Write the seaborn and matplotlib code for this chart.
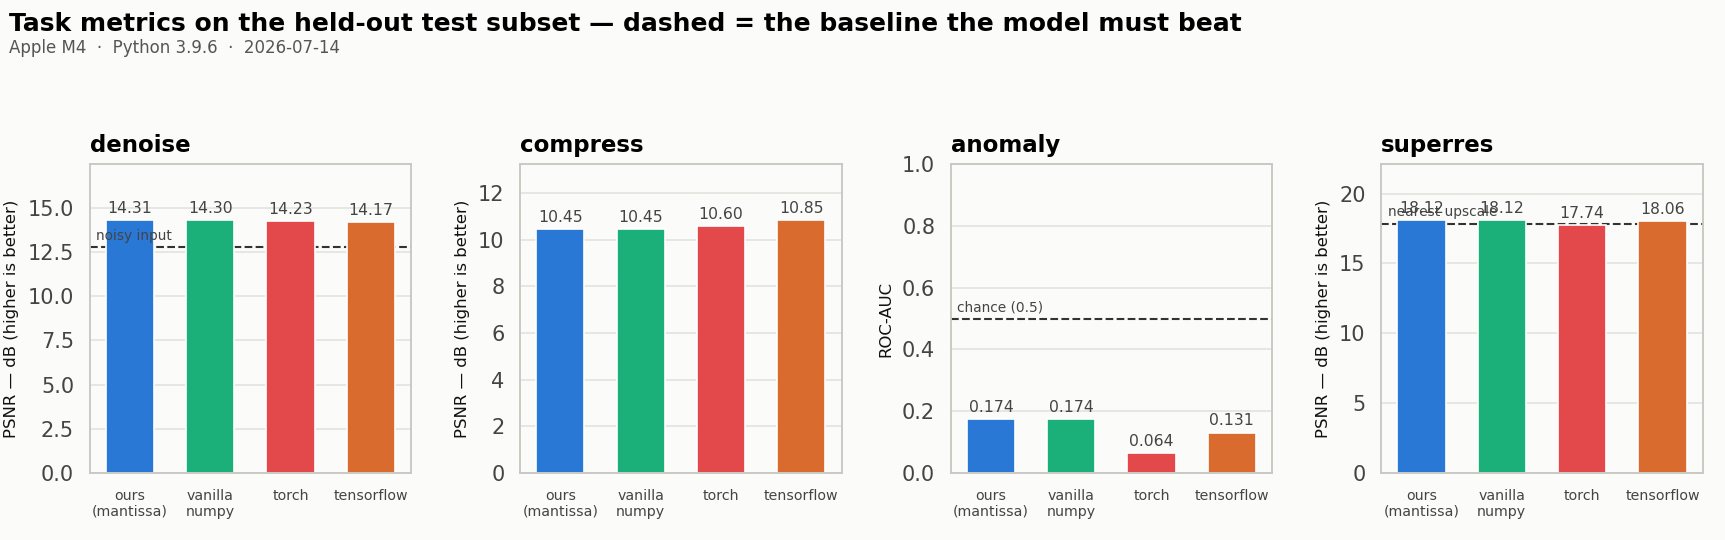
import numpy as np
import pandas as pd
import matplotlib
matplotlib.use("Agg")
import matplotlib.pyplot as plt
import matplotlib.transforms as mtransforms
import seaborn as sns

# data
frameworks = ["ours\n(mantissa)", "vanilla\nnumpy", "torch", "tensorflow"]
tasks = ["denoise", "compress", "anomaly", "superres"]
denoise_psnr = [14.31, 14.30, 14.23, 14.17]
compress_psnr = [10.45, 10.45, 10.60, 10.85]
anomaly_auc = [0.174, 0.174, 0.064, 0.131]
superres_psnr = [18.12, 18.12, 17.74, 18.06]
ylabels = ["PSNR — dB (higher is better)", "PSNR — dB (higher is better)",
           "ROC-AUC", "PSNR — dB (higher is better)"]
baseline_vals = [12.78, None, 0.5, 17.85]
baseline_names = ["noisy input", None, "chance (0.5)", "nearest upscale"]
value_fmt = ["{:.2f}", "{:.2f}", "{:.3f}", "{:.2f}"]
colors = ["#2978D6", "#1BB07A", "#E3494B", "#D96B2E"]

all_values = [denoise_psnr, compress_psnr, anomaly_auc, superres_psnr]

bg = "#FBFBFA"
sns.set_style("white")
plt.rcParams["font.family"] = ["DejaVu Sans"]

fig, axes = plt.subplots(1, 4, figsize=(11.5, 3.6), dpi=150, facecolor=bg)
fig.subplots_adjust(left=0.052, right=0.987, top=0.696, bottom=0.124, wspace=0.34)

for i, ax in enumerate(axes):
    df = pd.DataFrame({"framework": frameworks, "value": all_values[i]})
    ax.set_facecolor(bg)
    sns.barplot(data=df, x="framework", y="value", hue="framework",
                palette=colors, saturation=1, legend=False, width=0.6,
                edgecolor="white", linewidth=0.8, ax=ax, zorder=2)
    for c in ax.containers:
        ax.bar_label(c, labels=[value_fmt[i].format(v) for v in c.datavalues],
                     padding=2, fontsize=7.5, color="#444444")

    if tasks[i] == "anomaly":
        ax.set_ylim(0, 1.0)
    else:
        ax.set_ylim(0, max(all_values[i]) * 1.22)

    if baseline_vals[i] is not None:
        ax.axhline(baseline_vals[i], color="#333333", lw=1.0, ls="--", zorder=1.5)
        trans = mtransforms.blended_transform_factory(ax.transAxes, ax.transData)
        trans = trans + mtransforms.ScaledTranslation(0, 2 / 72, fig.dpi_scale_trans)
        ax.text(0.02, baseline_vals[i], baseline_names[i], transform=trans,
                fontsize=6.6, color="#444444", va="bottom", ha="left", zorder=3)

    ax.set_title(tasks[i], loc="left", fontweight="bold", fontsize=11, pad=6,
                 color="black")
    ax.set_xlabel("")
    ax.set_ylabel(ylabels[i], fontsize=7.9, color="#111111")
    ax.set_axisbelow(True)
    ax.yaxis.grid(True, color="#E4E4DE", lw=0.8)
    ax.tick_params(axis="y", labelsize=10, colors="#444444", length=4, width=0.8)
    ax.tick_params(axis="x", labelsize=6.8, colors="#444444", length=4, width=0.8)
    for s in ax.spines.values():
        s.set_visible(True)
        s.set_color("#C8C8C0")
        s.set_linewidth(0.9)

fig.text(0.005, 0.978, "Task metrics on the held-out test subset — dashed = the baseline the model must beat",
         fontsize=12, fontweight="bold", va="top", ha="left", color="black")
fig.text(0.005, 0.928, "Apple M4  ·  Python 3.9.6  ·  2026-07-14",
         fontsize=8, color="#555555", va="top", ha="left")

fig.savefig("out.png", dpi=150, facecolor=bg)
